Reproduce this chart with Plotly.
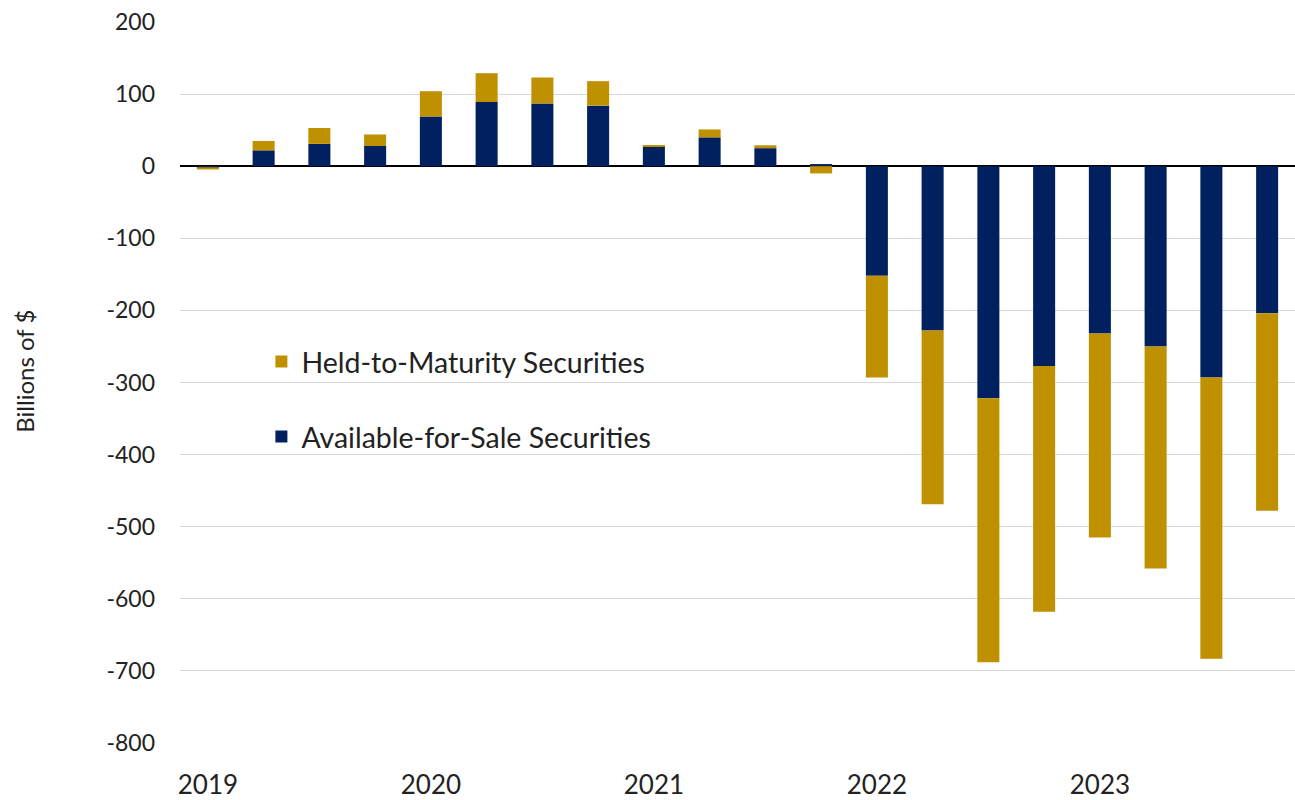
import plotly.graph_objects as go

# Quarterly unrealized gains/losses on bank securities, billions of dollars
quarters = [f"{y} Q{q}" for y in range(2019, 2024) for q in range(1, 5)]
afs = [-1.5, 22, 31, 28, 69, 89, 87, 84, 28, 40, 25, 3,
       -152, -228, -322, -277, -232, -250, -293, -204]
htm = [-3, 13, 22, 16, 35, 40, 36, 34, 1, 11, 4, -10,
       -141, -241, -366, -341, -283, -308, -390, -274]
year_ticks = ["2019 Q1", "2020 Q1", "2021 Q1", "2022 Q1", "2023 Q1"]
year_labels = ["2019", "2020", "2021", "2022", "2023"]
y_ticks = [200, 100, 0, -100, -200, -300, -400, -500, -600, -700, -800]
y_labels = ["200", "100", "0", "-100", "-200", "-300", "-400",
            "-500", "-600", "-700", "-800"]

NAVY = "#002060"
GOLD = "#BF9000"
FONT = "Lato, 'Open Sans', sans-serif"

fig = go.Figure()
fig.add_trace(go.Bar(x=quarters, y=afs, name="Available-for-Sale Securities",
                     marker=dict(color=NAVY, line=dict(width=0)),
                     legendgroup="afs", legendrank=2))
fig.add_trace(go.Bar(x=quarters, y=htm, name="Held-to-Maturity Securities",
                     marker=dict(color=GOLD, line=dict(width=0)),
                     legendgroup="htm", legendrank=1))

fig.update_layout(
    width=1295, height=800,
    margin=dict(l=180, r=0, t=22, b=57),
    paper_bgcolor="white", plot_bgcolor="white",
    barmode="relative", bargap=0.605,
    font=dict(family=FONT, color="#222222"),
    showlegend=True,
    legend=dict(x=0.073, y=0.564, xanchor="left", yanchor="top",
                traceorder="grouped", tracegroupgap=35,
                font=dict(size=28.5, family=FONT, color="#222222"),
                bgcolor="rgba(0,0,0,0)", itemwidth=30),
    xaxis=dict(type="category", categoryorder="array", categoryarray=quarters,
               tickvals=year_ticks, ticktext=year_labels,
               tickfont=dict(size=26, family=FONT, color="#222222"),
               showgrid=False, showline=False, ticks="", ticklabelstandoff=24),
    yaxis=dict(range=[-800, 200], tickvals=y_ticks, ticktext=y_labels,
               showgrid=True, gridcolor="#d9d9d9", gridwidth=1,
               zeroline=True, zerolinecolor="#000000", zerolinewidth=1.5,
               showline=False, ticks="", ticklabelstandoff=24,
               tickfont=dict(size=23, family=FONT, color="#222222")),
    annotations=[dict(text="Billions of $", textangle=-90,
                      xref="paper", yref="paper",
                      x=-0.139, y=0.515, xanchor="center", yanchor="middle",
                      showarrow=False,
                      font=dict(size=24, family=FONT, color="#222222"))],
)

fig.write_html("out.html")
